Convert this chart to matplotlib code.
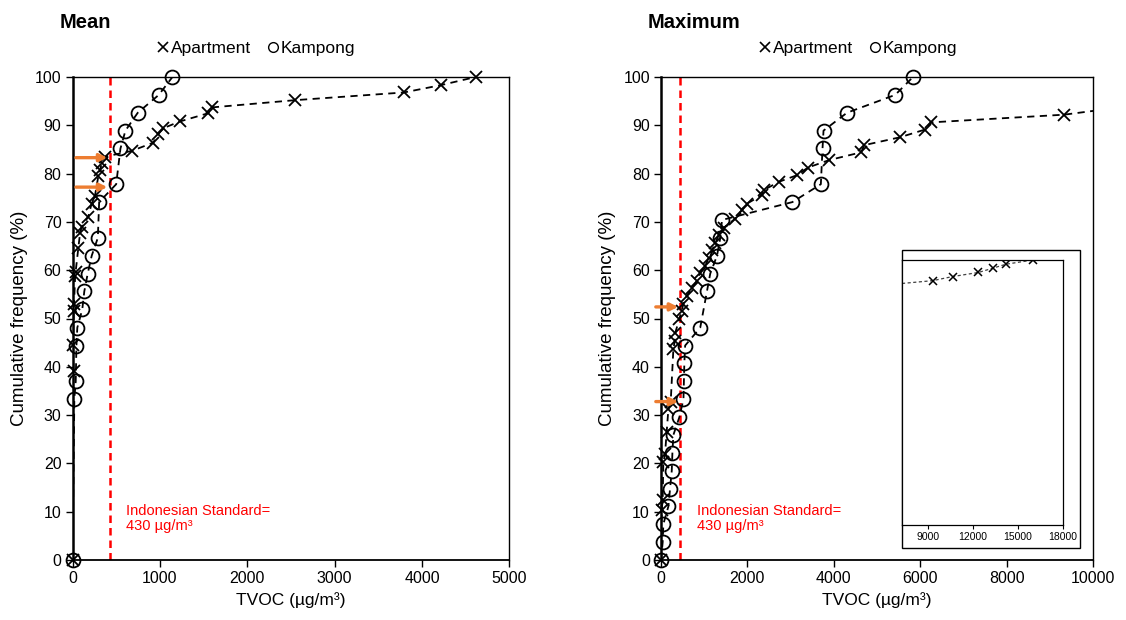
import matplotlib
matplotlib.use("Agg")
import matplotlib.pyplot as plt
from matplotlib.lines import Line2D
from matplotlib.patches import Rectangle

plt.rcParams['font.family'] = ['Liberation Sans', 'DejaVu Sans']

# ---- data: Mean ----
apt_mean_x = [0, 12, 6, 14, 18, 30, 36, 66, 86, 105, 181, 219, 257, 295, 315, 334, 372,
              678, 924, 982, 1039, 1230, 1554, 1593, 2545, 3794, 4213, 4616]
apt_mean_y = [0, 39.1, 44.5, 51.6, 53.1, 58.7, 59.7, 64.5, 67.6, 69.0, 71.1, 73.8, 75.4,
              79.4, 80.7, 82.1, 83.5, 84.7, 86.4, 88.2, 89.4, 90.8, 92.5, 93.7, 95.2,
              96.8, 98.3, 100]
kam_mean_x = [0, 21, 37, 45, 55, 112, 135, 174, 220, 290, 305, 500, 549, 606, 747, 988, 1144]
kam_mean_y = [0, 33.3, 37.0, 44.4, 48.1, 51.9, 55.6, 59.3, 63.0, 66.7, 74.1, 77.8, 85.2,
              88.9, 92.6, 96.3, 100]

# ---- data: Maximum ----
apt_max_x = [0, 16, 39, 54, 93, 132, 171, 225, 287, 318, 326, 427, 481, 519, 598, 714, 831,
             908, 1024, 1101, 1179, 1257, 1334, 1450, 1722, 1877, 1994, 2343, 2381, 2730,
             3158, 3400, 3893, 4631, 4708, 5523, 6105, 6245, 9333, 10667, 12380, 13333,
             14200, 16000]
apt_max_y = [0, 10.4, 12.5, 20.3, 21.9, 26.6, 31.25, 32.8, 43.75, 45.3, 46.9, 50.0, 51.6,
             53.1, 54.7, 56.25, 57.8, 59.4, 60.9, 62.5, 64.1, 65.6, 67.2, 68.75, 70.7, 72.5,
             73.8, 75.6, 76.6, 78.3, 79.7, 81.25, 82.8, 84.4, 85.9, 87.5, 89.1, 90.6, 92.2,
             93.75, 95.3, 96.9, 98.4, 100]
kam_max_x = [0, 39, 54, 171, 210, 249, 264, 287, 426, 520, 530, 540, 559, 908, 1063, 1140,
             1296, 1373, 1412, 3041, 3700, 3739, 3762, 4305, 5422, 5834]
kam_max_y = [0, 3.7, 7.4, 11.1, 14.8, 18.5, 22.2, 25.9, 29.6, 33.3, 37.0, 40.7, 44.4, 48.1,
             55.6, 59.3, 63.0, 66.7, 70.4, 74.1, 77.8, 85.2, 88.9, 92.6, 96.3, 100]

standard = 430
mean_arrows_y = [83.3, 77.2]
max_arrows_y = [52.4, 32.8]
yticks = list(range(0, 101, 10))
mean_xticks = [0, 1000, 2000, 3000, 4000, 5000]
max_xticks = [0, 2000, 4000, 6000, 8000, 10000]
inset_xticks = [9000, 12000, 15000, 18000]

W, H = 1126, 620
fig = plt.figure(figsize=(W / 100, H / 100), dpi=100)

def fr(x0, y0, x1, y1):
    return [x0 / W, 1 - y1 / H, (x1 - x0) / W, (y1 - y0) / H]

axL = fig.add_axes(fr(72.5, 77, 509.3, 560))
axR = fig.add_axes(fr(661, 77, 1093, 560))

dash = (0, (4, 3))
orange = '#ED7D31'

def series(ax, xs, ys, xmax, **mk):
    # dashed connecting line (clipped to the axes)
    ax.plot(xs, ys, ls=dash, color='black', lw=1.3, zorder=3)
    # markers inside the x-range, drawn unclipped so edge markers show whole
    inside = [(x, y) for x, y in zip(xs, ys) if x <= xmax]
    ax.plot([p[0] for p in inside], [p[1] for p in inside], ls='none', color='black',
            zorder=4, clip_on=False, **mk)

def draw(ax, ax_x, ax_y, kx, ky, xmax, xticks, arrows_y, arrow_x0, text_x, title, lx):
    ax.axvline(standard, color='#FF0000', ls=(0, (3, 2)), lw=1.8, zorder=1)
    series(ax, ax_x, ax_y, xmax, marker='x', ms=9, mew=1.3)
    series(ax, kx, ky, xmax, marker='o', ms=10, mfc='none', mew=1.3)
    for ya in arrows_y:
        ax.annotate('', xy=(standard * 0.93, ya), xytext=(arrow_x0, ya),
                    arrowprops=dict(arrowstyle='-|>,head_length=0.45,head_width=0.22',
                                    color=orange, lw=2.4, shrinkA=0, shrinkB=0),
                    annotation_clip=False, zorder=5)
    ax.set_xlim(0, xmax)
    ax.set_ylim(0, 100)
    ax.set_xticks(xticks)
    ax.set_yticks(yticks)
    ax.tick_params(direction='out', length=5, width=1, labelsize=11.5, pad=3)
    ax.set_xlabel('TVOC (µg/m³)', fontsize=12.5, labelpad=4)
    ax.set_ylabel('Cumulative frequency (%)', fontsize=13.5, labelpad=5)
    for s in ax.spines.values():
        s.set_linewidth(1.0)
    ax.spines['left'].set_linewidth(1.8)
    ax.spines['bottom'].set_linewidth(1.3)
    ax.text(text_x, 11.5, 'Indonesian Standard=\n430 µg/m³', color='#FF0000', fontsize=10.5,
            ha='left', va='top', linespacing=1.05)
    ax.set_title(title, loc='left', fontweight='bold', fontsize=14.5, x=-0.03, y=1.085)
    handles = [Line2D([], [], color='black', marker='x', ls='none', ms=7, mew=1.2),
               Line2D([], [], color='black', marker='o', ls='none', ms=7, mfc='none', mew=1.0)]
    ax.legend(handles, ['Apartment', 'Kampong'], loc='center', ncol=2, frameon=False,
              bbox_to_anchor=(lx, 1.06), fontsize=12.5,
              handlelength=0.7, handletextpad=0.1, columnspacing=0.9, borderaxespad=0)

draw(axL, apt_mean_x, apt_mean_y, kam_mean_x, kam_mean_y, 5000, mean_xticks,
     mean_arrows_y, 40, 612, 'Mean', 0.42)
draw(axR, apt_max_x, apt_max_y, kam_max_x, kam_max_y, 10000, max_xticks,
     max_arrows_y, -120, 838, 'Maximum', 0.457)

# outer frame of inset
fig.patches.append(Rectangle((902 / W, 1 - 548 / H), 178 / W, 298 / H,
                             transform=fig.transFigure, facecolor='white',
                             edgecolor='black', lw=1.0, zorder=5))
axI = fig.add_axes(fr(902, 260, 1063, 525))
axI.set_zorder(6)
axI.plot(apt_max_x, apt_max_y, ls=(0, (2.5, 2)), color='0.25', lw=0.9, marker='x', ms=5.5,
         mew=1.1, mec='black')
axI.set_xlim(7300, 18000)
axI.set_ylim(0, 100)
axI.set_xticks(inset_xticks)
axI.set_yticks([])
axI.tick_params(direction='out', length=3, width=0.8, labelsize=7.5, pad=2)
for s in axI.spines.values():
    s.set_linewidth(0.9)

fig.savefig('out.png', dpi=100)
